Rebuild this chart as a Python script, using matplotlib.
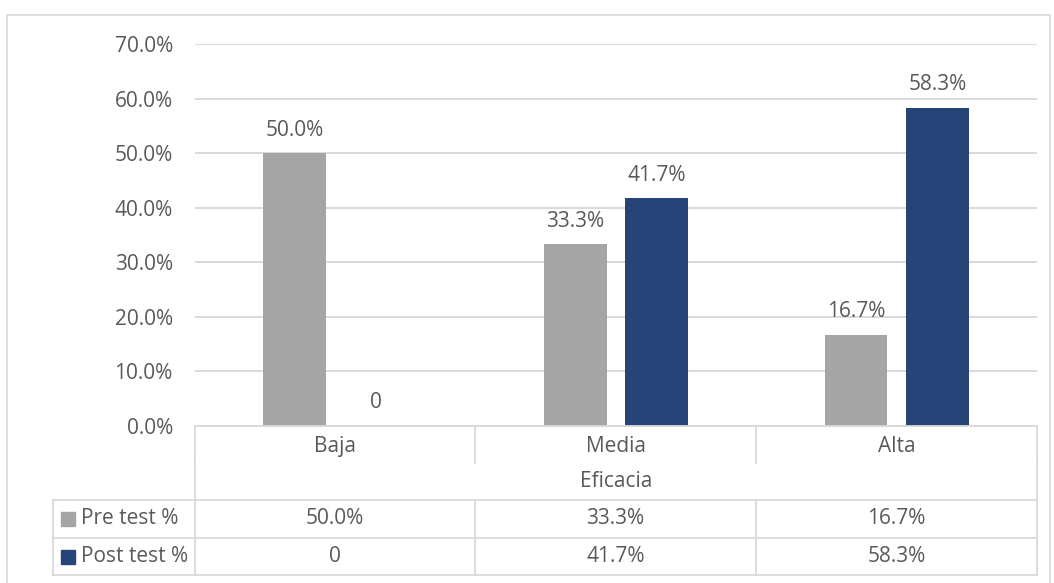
import numpy as np
import matplotlib as mpl
import matplotlib.pyplot as plt
from matplotlib.lines import Line2D
from matplotlib.patches import Rectangle
mpl.use('agg')

##--##--  data  --##--##
categories = ['Baja', 'Media', 'Alta']
axis_title = 'Eficacia'
series_names = ['Pre test %', 'Post test %']
pre_test = [50.0, 33.3, 16.7]
post_test = [0.0, 41.7, 58.3]
pre_labels = ['50.0%', '33.3%', '16.7%']
post_labels = ['0', '41.7%', '58.3%']
y_ticks = [0, 10, 20, 30, 40, 50, 60, 70]

c_pre = '#A5A5A5'
c_post = '#264478'
c_txt = '#595959'
c_grid = '#D9D9D9'
fs = 15

plt.rcParams['font.family'] = ['Open Sans', 'DejaVu Sans']

W, H = 1054, 583
fig = plt.figure(figsize=(W/100, H/100), dpi=100)

def fx(px):
  return px / W

def fy(py):
  return 1 - py / H

## outer chart border
fig.add_artist(Rectangle((fx(7), fy(590)), fx(1050) - fx(7), fy(15) - fy(590),
                         transform=fig.transFigure, fill=False, edgecolor=c_grid, linewidth=1.2))

x0, x1, ytop, ybot = 195, 1037, 44, 426
ax = fig.add_axes([fx(x0), fy(ybot), fx(x1) - fx(x0), fy(ytop) - fy(ybot)])

x = np.arange(len(categories))
bw = 0.224
off = 0.145
b1 = ax.bar(x - off, pre_test, bw, color=c_pre, zorder=3)
b2 = ax.bar(x + off, post_test, bw, color=c_post, zorder=3)
for bars, labs in ((b1, pre_labels), (b2, post_labels)):
  for b, s in zip(bars, labs):
    ax.annotate(s, (b.get_x() + b.get_width()/2, b.get_height()), xytext=(0, 9),
                textcoords='offset points', ha='center', va='bottom', fontsize=fs, color=c_txt)

ax.set_xlim(-0.5, len(categories) - 0.5)
ax.set_ylim(0, 70)
ax.set_yticks(y_ticks)
ax.set_yticklabels(['%.1f%%' % v for v in y_ticks], fontsize=fs, color=c_txt)
ax.tick_params(axis='y', length=0, pad=16)
ax.set_xticks([])
ax.yaxis.grid(True, color=c_grid, linewidth=1.4, zorder=0)
for s in ax.spines.values():
  s.set_visible(False)

## data table below the plot
def hline(px_a, px_b, py):
  fig.add_artist(Line2D([fx(px_a), fx(px_b)], [fy(py), fy(py)], color=c_grid, linewidth=1.3))

def vline(px, py_a, py_b):
  fig.add_artist(Line2D([fx(px), fx(px)], [fy(py_a), fy(py_b)], color=c_grid, linewidth=1.3))

col_edges = [195, 475, 756, 1037]
rows = [426, 463, 500, 538, 575]
hline(x0, x1, rows[0])
for py in rows[2:]:
  hline(53, x1, py)
for px in col_edges:
  vline(px, rows[0], rows[1])
vline(x0, rows[1], rows[2])
vline(x1, rows[1], rows[2])
for py_a, py_b in ((rows[2], rows[3]), (rows[3], rows[4])):
  vline(53, py_a, py_b)
  for px in col_edges:
    vline(px, py_a, py_b)

centers = [(col_edges[i] + col_edges[i+1]) / 2 for i in range(len(categories))]
for cx, cat, pl, ql in zip(centers, categories, pre_labels, post_labels):
  fig.text(fx(cx), fy((rows[0] + rows[1]) / 2 + 2), cat, ha='center', va='center', fontsize=fs, color=c_txt)
  fig.text(fx(cx), fy((rows[2] + rows[3]) / 2), pl, ha='center', va='center', fontsize=fs, color=c_txt)
  fig.text(fx(cx), fy((rows[3] + rows[4]) / 2), ql, ha='center', va='center', fontsize=fs, color=c_txt)
fig.text(fx((x0 + x1) / 2), fy((rows[1] + rows[2]) / 2), axis_title, ha='center', va='center', fontsize=fs, color=c_txt)

for i, (name, col) in enumerate(zip(series_names, [c_pre, c_post])):
  ym = (rows[2 + i] + rows[3 + i]) / 2
  fig.add_artist(Rectangle((fx(61), fy(ym + 7)), fx(75) - fx(61), fy(ym - 7) - fy(ym + 7),
                           transform=fig.transFigure, color=col))
  fig.text(fx(81), fy(ym), name, ha='left', va='center', fontsize=fs, color=c_txt)

fig.savefig('out.png', dpi=100)
